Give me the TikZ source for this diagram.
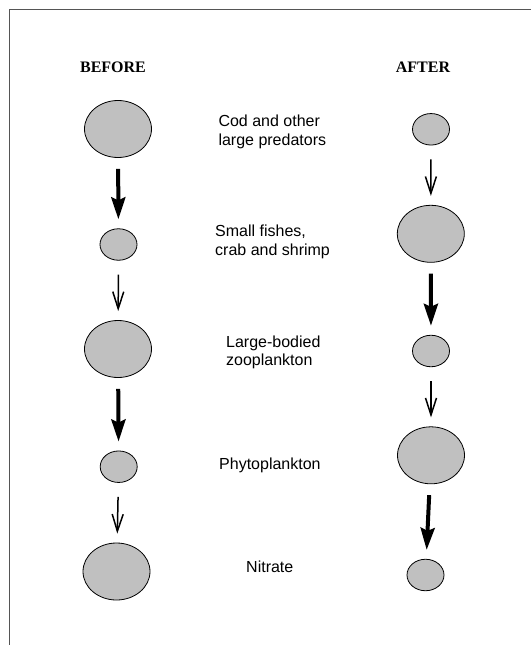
\documentclass[tikz,border=0pt]{standalone}
\usepackage{fontspec}
\setmainfont{Liberation Serif}
\setsansfont{Liberation Sans}
\usetikzlibrary{shapes.geometric,arrows.meta}
\definecolor{ellfill}{RGB}{192,192,192}
\definecolor{framecol}{RGB}{85,85,85}
\begin{document}
\begin{tikzpicture}[x=1pt,y=-1pt,
  ell/.style={ellipse,draw=black,line width=0.8pt,fill=ellfill,inner sep=0pt},
  big/.style={ell,minimum width=67pt,minimum height=57pt},
  small/.style={ell,minimum width=37pt,minimum height=31.5pt},
  strong/.style={-{Stealth[length=22pt,width=14pt,inset=3pt]},line width=4pt,shorten <=11pt,shorten >=9pt},
  weak/.style={-{Straight Barb[length=17pt,width=11pt]},line width=1.5pt,shorten <=14pt,shorten >=9pt},
  head/.style={font=\fontsize{16}{18}\selectfont\bfseries,inner sep=0pt,anchor=base},
  lab/.style={font=\sffamily\fontsize{16}{18.5}\selectfont,align=left,inner sep=0pt,anchor=base west}]
\useasboundingbox (0,0) rectangle (531,645);
\draw[framecol,line width=1pt] (9,645) -- (9,9) -- (531,9);

\node[head] (before) at (113,72.7) {BEFORE};
\node[head] (after) at (423,72.7) {AFTER};

\node[big]   (b1) at (118,129) {};
\node[small] (b2) at (118.5,244.5) {};
\node[big]   (b3) at (118,349) {};
\node[small] (b4) at (118.7,466.7) {};
\node[big]   (b5) at (116.5,571.5) {};

\node[small] (a1) at (431,129.3) {};
\node[big]   (a2) at (430.8,233.8) {};
\node[small] (a3) at (431,351) {};
\node[big]   (a4) at (431,455.3) {};
\node[small] (a5) at (425.5,575) {};

\draw[strong] (b1) -- (b2);
\draw[weak]   (b2) -- (b3);
\draw[strong] (b3) -- (b4);
\draw[weak]   (b4) -- (b5);

\draw[weak]   (a1) -- (a2);
\draw[strong] (a2) -- (a3);
\draw[weak]   (a3) -- (a4);
\draw[strong] (a4) -- (a5);

\node[lab] (l1) at (218.3,145.2) {Cod and other\\large predators};
\node[lab] (l2) at (215,255.2) {Small fishes,\\crab and shrimp};
\node[lab] (l3) at (226,365.8) {Large-bodied\\zooplankton};
\node[lab] (l4) at (219,469) {Phytoplankton};
\node[lab] (l5) at (246,572.3) {Nitrate};
\end{tikzpicture}
\end{document}
